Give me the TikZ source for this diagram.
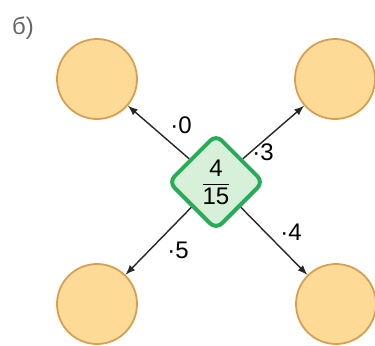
\documentclass[tikz,border=0pt]{standalone}
\usepackage{fontspec}
\setmainfont{Liberation Sans}
\usetikzlibrary{shapes.geometric}
\definecolor{cirfill}{RGB}{253,218,150}
\definecolor{cirline}{RGB}{214,160,80}
\definecolor{dfill}{RGB}{214,240,218}
\definecolor{dline}{RGB}{40,172,88}
\begin{document}
\begin{tikzpicture}[>=latex, x=0.5pt, y=-0.5pt,
    blank/.style={circle, draw=cirline, fill=cirfill, line width=0.9pt, minimum size=40pt, inner sep=0pt},
    frac/.style={diamond, draw=dline, fill=dfill, line width=2pt, rounded corners=4pt, minimum width=48pt, minimum height=48pt, inner sep=0pt},
    mult/.style={font=\large, inner sep=1pt},
    link/.style={->, line width=0.7pt, black!85}]
            \useasboundingbox (0,0) rectangle (375,345);
            \node[text=black!60, font=\large] at (23,28) (lbl) {б)};
            \node[frac] at (216,182) (d) {$\displaystyle\frac{\mbox{\large 4}}{\mbox{\large 15}}$};
            \node[blank] at (97,79) (tl) {};
            \node[blank] at (335,79) (tr) {};
            \node[blank] at (97,304) (bl) {};
            \node[blank] at (336,304) (br) {};
            \draw[link] (d) -- (tl);
            \draw[link] (d) -- (tr);
            \draw[link] (d) -- (bl);
            \draw[link] (d) -- (br);
            \node[mult] at (181,125) (m0) {·0};
            \node[mult] at (263,152) (m3) {·3};
            \node[mult] at (291,232) (m4) {·4};
            \node[mult] at (178,250) (m5) {·5};
        \end{tikzpicture}
\end{document}
